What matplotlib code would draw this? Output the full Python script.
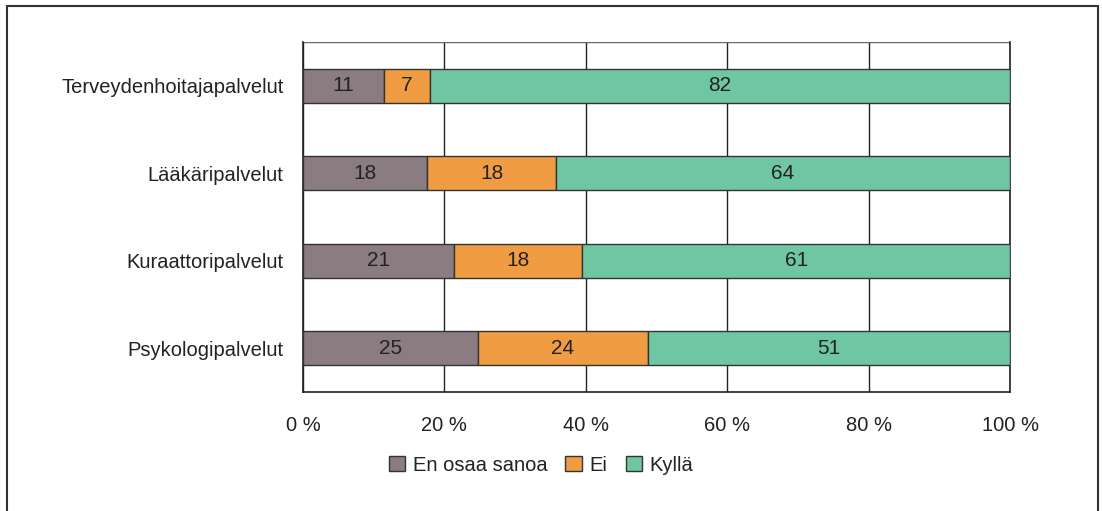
import matplotlib
matplotlib.use("Agg")
import matplotlib.pyplot as plt
from matplotlib.patches import Rectangle
import numpy as np

plt.rcParams['font.family'] = ['Liberation Sans', 'DejaVu Sans']

categories = ["Terveydenhoitajapalvelut", "Lääkäripalvelut", "Kuraattoripalvelut", "Psykologipalvelut"]
en_osaa = [11.4, 17.6, 21.3, 24.7]
ei = [6.6, 18.2, 18.2, 24.1]
kylla = [82.0, 64.2, 60.5, 51.2]
labels_en = [11, 18, 21, 25]
labels_ei = [7, 18, 18, 24]
labels_kylla = [82, 64, 61, 51]
series_names = ["En osaa sanoa", "Ei", "Kyllä"]
colors = ["#8a7c80", "#f09c42", "#6fc6a3"]
xticks = [0, 20, 40, 60, 80, 100]

fig = plt.figure(figsize=(11.02, 5.11), dpi=100)
ax = fig.add_axes([303 / 1102, 1 - 392 / 511, 707 / 1102, 350 / 511])

# outer frame
fig.patches.append(Rectangle((7 / 1102, -0.05), 1091 / 1102, 1.05 - 6 / 511,
                             transform=fig.transFigure, fill=False,
                             edgecolor="#333333", linewidth=1.5))

y = np.arange(len(categories))
left = np.zeros(len(categories))
data = [en_osaa, ei, kylla]
labs = [labels_en, labels_ei, labels_kylla]
for vals, lab, name, c in zip(data, labs, series_names, colors):
    vals = np.array(vals)
    bars = ax.barh(y, vals, left=left, height=0.39, color=c,
                   edgecolor="#333333", linewidth=1.0, label=name, zorder=3)
    ax.bar_label(bars, labels=[str(v) for v in lab], label_type="center",
                 fontsize=15, color="#222222")
    left = left + vals

ax.set_xlim(0, 100)
ax.set_ylim(3.5, -0.5)
ax.set_yticks(y)
ax.set_yticklabels(categories, fontsize=14.5, color="#222222")
ax.set_xticks(xticks)
ax.set_xticklabels([f"{v} %" for v in xticks], fontsize=14.5, color="#222222")
ax.tick_params(axis="both", length=0)
ax.tick_params(axis="x", pad=17)
ax.tick_params(axis="y", pad=14)
ax.grid(axis="x", color="#222222", linewidth=1.0, zorder=0)
ax.set_axisbelow(True)
ax.spines["top"].set_visible(False)
for s in ["left", "bottom", "right"]:
    ax.spines[s].set_color("#222222")
    ax.spines[s].set_linewidth(1.2)
ax.axhline(-0.5, color="#666666", linewidth=1.0, zorder=1)

leg = fig.legend(loc="center", bbox_to_anchor=(541 / 1102, 1 - 465 / 511), ncol=3,
                 frameon=False, fontsize=14.5, handlelength=0.8, handleheight=0.8,
                 handletextpad=0.4, columnspacing=0.9)
for t in leg.get_texts():
    t.set_color("#222222")

fig.savefig("out.png", dpi=100)
